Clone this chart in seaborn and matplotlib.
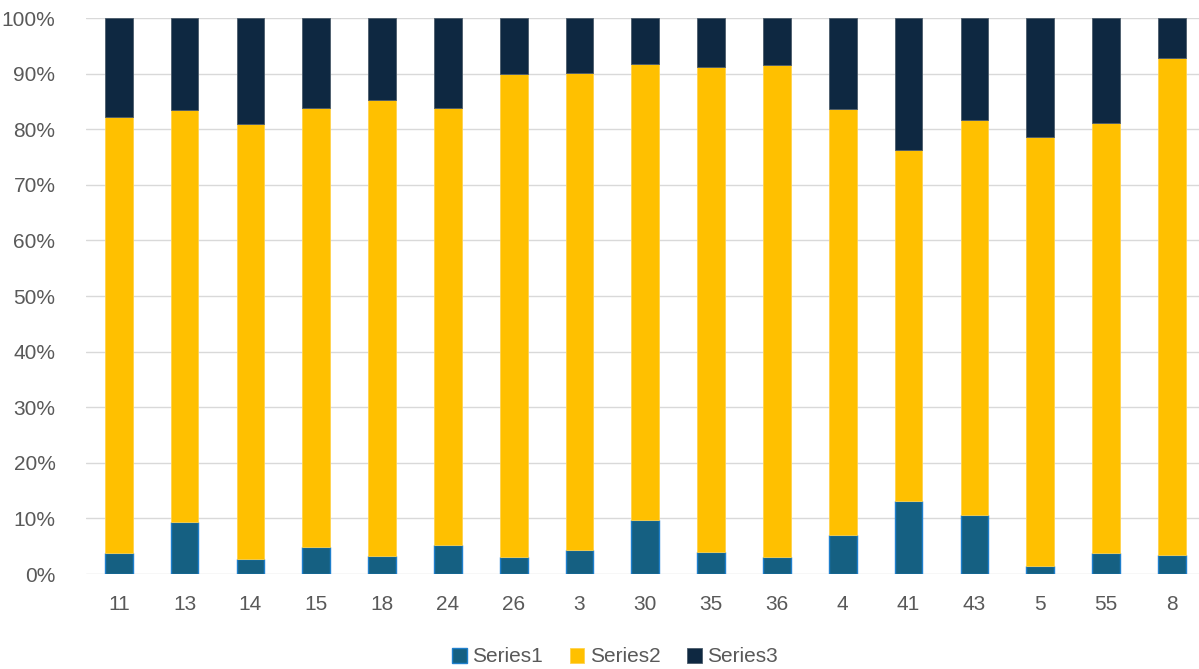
import matplotlib
matplotlib.use("Agg")
import matplotlib.pyplot as plt
from matplotlib.patches import Patch
from matplotlib.ticker import PercentFormatter, MultipleLocator
import numpy as np
import pandas as pd
import seaborn as sns

categories = ['11', '13', '14', '15', '18', '24', '26', '3', '30', '35',
              '36', '4', '41', '43', '5', '55', '8']
series1 = [3.7, 9.3, 2.7, 4.9, 3.3, 5.3, 3.1, 4.3, 9.8, 4.0,
           3.1, 7.1, 13.1, 10.6, 1.5, 3.7, 3.5]
series2 = [78.5, 74.1, 78.2, 79.0, 82.0, 78.6, 86.8, 85.9, 82.0, 87.25,
           88.4, 76.6, 63.15, 71.1, 77.1, 77.4, 89.3]
series3 = [17.8, 16.6, 19.1, 16.1, 14.7, 16.1, 10.1, 9.8, 8.2, 8.75,
           8.5, 16.3, 23.75, 18.3, 21.4, 18.9, 7.2]
series_names = ['Series1', 'Series2', 'Series3']

colors = ['#156082', '#FFC000', '#0E2841']
edges = ['#1F7FCC', '#FFD24D', '#4B5B6B']
edge_widths = [1.0, 0.6, 0.6]

sns.set_theme(style="white")
plt.rcParams['font.family'] = ['Liberation Sans', 'DejaVu Sans']

# Normalise each category to 100 %
raw = np.array([series1, series2, series3], dtype=float)
shares = raw / raw.sum(axis=0) * 100

fig = plt.figure(figsize=(11.99, 6.69), dpi=100)
ax = fig.add_axes([0.0717, 0.142, 0.933, 0.831])

bottom = np.zeros(len(categories))
for name, vals, c, ec, lw in zip(series_names, shares, colors, edges, edge_widths):
    df = pd.DataFrame({'cat': categories, 'val': vals})
    sns.barplot(data=df, x='cat', y='val', order=categories, color=c,
                width=0.42, bottom=bottom, edgecolor=ec, linewidth=lw,
                saturation=1, ax=ax, zorder=3)
    bottom = bottom + vals

ax.set_xlim(-0.5, len(categories) - 0.5)
ax.set_ylim(0, 100)
ax.yaxis.set_major_locator(MultipleLocator(10))
ax.yaxis.set_major_formatter(PercentFormatter(decimals=0))
ax.grid(axis='y', color='#D9D9D9', linewidth=1.0, zorder=0)
ax.grid(axis='x', visible=False)
for s in ax.spines.values():
    s.set_visible(False)
ax.set_xlabel('')
ax.set_ylabel('')
ax.tick_params(axis='both', length=0, labelsize=15, colors='#595959')
ax.tick_params(axis='x', pad=15)
ax.tick_params(axis='y', pad=22)

handles = [Patch(facecolor=c, edgecolor=ec, linewidth=lw)
           for c, ec, lw in zip(colors, edges, edge_widths)]
fig.legend(handles, series_names, loc='center', bbox_to_anchor=(615 / 1199, 12 / 669),
           ncol=3, frameon=False, fontsize=15, handlelength=0.7, handleheight=0.7,
           handletextpad=0.25, columnspacing=1.3, labelcolor='#595959')

fig.savefig('out.png', dpi=100)
